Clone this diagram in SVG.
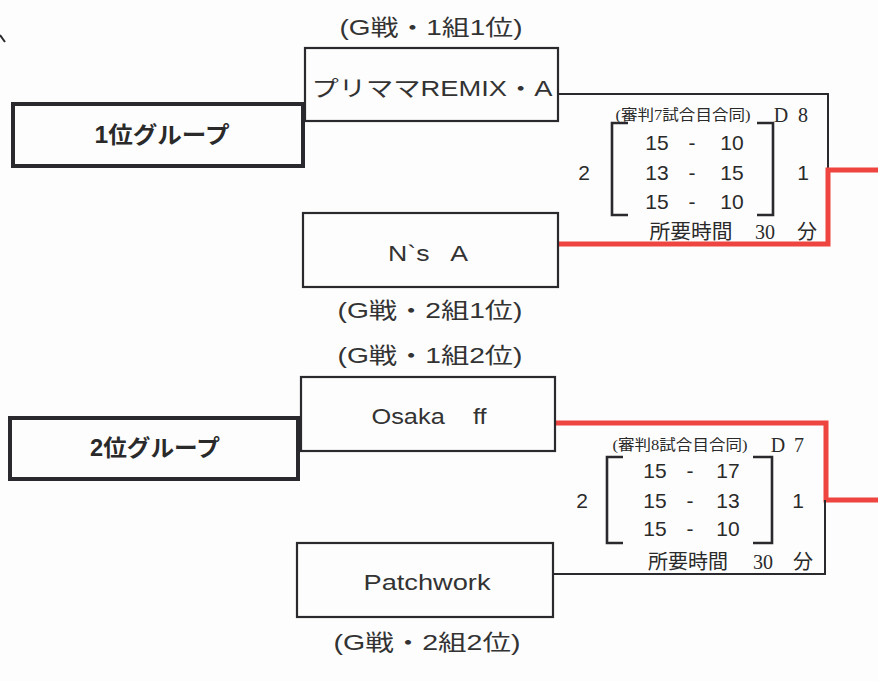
<svg xmlns="http://www.w3.org/2000/svg" width="878" height="681" viewBox="0 0 878 681">
<style>
.bg{fill:#fdfdfd}
.grp{fill:none;stroke:#2a2a2e;stroke-width:4}
.team{fill:none;stroke:#2a2a2e;stroke-width:2.2}
.gt{font-family:"Liberation Sans","Noto Sans CJK JP",sans-serif;font-weight:bold;font-size:23px;fill:#2a2a2a;text-anchor:middle}
.tn{font-family:"Liberation Sans","Noto Sans CJK JP",sans-serif;font-size:22px;fill:#333;text-anchor:middle}
.lb{font-family:"Liberation Sans","Noto Sans CJK JP",sans-serif;font-size:22px;fill:#333;text-anchor:middle}
.sc{font-family:"Liberation Sans","Noto Sans CJK JP",sans-serif;font-size:21px;fill:#2a2a2a;text-anchor:middle}
.mi{font-family:"Liberation Serif","Noto Sans CJK JP",serif;fill:#2a2a2a;text-anchor:middle}
.blk{fill:none;stroke:#2a2a2e;stroke-width:2}
.red{fill:none;stroke:#ef4540;stroke-width:5}
.brk{fill:none;stroke:#2a2a2e;stroke-width:2.6}
</style>
<rect class="bg" x="0" y="0" width="878" height="681"/>
<path d="M0,35 L5,42" stroke="#2a2a2e" stroke-width="2" fill="none"/>

<g id="connectors">
  <path class="blk" d="M558,94 H828 V170"/>
  <path class="red" d="M558,244 H828 V170 H878"/>
  <path class="red" d="M555,423 H826 V500 H878"/>
  <path class="blk" d="M553,574 H825 V500"/>
</g>

<g id="group1">
  <rect class="grp" x="13" y="104" width="290" height="62"/>
  <text class="gt" x="162" y="143" textLength="135" lengthAdjust="spacingAndGlyphs">1位グループ</text>
</g>
<g id="group2">
  <rect class="grp" x="10" y="418" width="288" height="61"/>
  <text class="gt" x="155" y="456" textLength="130" lengthAdjust="spacingAndGlyphs">2位グループ</text>
</g>

<g id="team1">
  <text class="lb" x="431" y="35" textLength="183" lengthAdjust="spacingAndGlyphs">(G戦・1組1位)</text>
  <rect class="team" x="305" y="48" width="253" height="73"/>
  <text class="tn" x="432" y="96" textLength="241" lengthAdjust="spacingAndGlyphs">プリママREMIX・A</text>
</g>
<g id="team2">
  <rect class="team" x="303" y="213" width="255" height="74"/>
  <text class="tn" x="428" y="261" xml:space="preserve" textLength="80" lengthAdjust="spacingAndGlyphs">N`s   A</text>
  <text class="lb" x="430" y="318" textLength="185" lengthAdjust="spacingAndGlyphs">(G戦・2組1位)</text>
</g>
<g id="team3">
  <text class="lb" x="430" y="363" textLength="185" lengthAdjust="spacingAndGlyphs">(G戦・1組2位)</text>
  <rect class="team" x="301" y="377" width="254" height="74"/>
  <text class="tn" x="429" y="424" xml:space="preserve" textLength="115" lengthAdjust="spacingAndGlyphs">Osaka    ff</text>
</g>
<g id="team4">
  <rect class="team" x="297" y="543" width="256" height="74"/>
  <text class="tn" x="427" y="590" textLength="127" lengthAdjust="spacingAndGlyphs">Patchwork</text>
  <text class="lb" x="427" y="650" textLength="187" lengthAdjust="spacingAndGlyphs">(G戦・2組2位)</text>
</g>

<g id="match1">
  <text class="mi" x="683" y="120" font-size="15" textLength="135" lengthAdjust="spacingAndGlyphs">(審判7試合目合同)</text>
  <text class="mi" x="781" y="122" font-size="20">D</text>
  <text class="mi" x="803" y="122" font-size="20">8</text>
  <path class="brk" d="M628,123 H612 V215 H628"/>
  <path class="brk" d="M757,123 H773 V215 H757"/>
  <text class="sc" x="657" y="150">15</text><text class="sc" x="692" y="150">-</text><text class="sc" x="732" y="150">10</text>
  <text class="sc" x="657" y="180">13</text><text class="sc" x="692" y="180">-</text><text class="sc" x="732" y="180">15</text>
  <text class="sc" x="657" y="209">15</text><text class="sc" x="692" y="209">-</text><text class="sc" x="732" y="209">10</text>
  <text class="sc" x="584" y="180">2</text>
  <text class="sc" x="803" y="180">1</text>
  <text class="mi" x="691" y="239" font-size="20" textLength="83" lengthAdjust="spacingAndGlyphs">所要時間</text>
  <text class="mi" x="765" y="239" font-size="20">30</text>
  <text class="mi" x="807" y="239" font-size="20">分</text>
</g>

<g id="match2">
  <text class="mi" x="680" y="450" font-size="15" textLength="135" lengthAdjust="spacingAndGlyphs">(審判8試合目合同)</text>
  <text class="mi" x="778" y="452" font-size="20">D</text>
  <text class="mi" x="799" y="452" font-size="20">7</text>
  <path class="brk" d="M623,457 H607 V543 H623"/>
  <path class="brk" d="M753,457 H772 V543 H753"/>
  <text class="sc" x="655" y="478">15</text><text class="sc" x="690" y="478">-</text><text class="sc" x="728" y="478">17</text>
  <text class="sc" x="655" y="508">15</text><text class="sc" x="690" y="508">-</text><text class="sc" x="728" y="508">13</text>
  <text class="sc" x="655" y="536">15</text><text class="sc" x="690" y="536">-</text><text class="sc" x="728" y="536">10</text>
  <text class="sc" x="582" y="508">2</text>
  <text class="sc" x="798" y="508">1</text>
  <text class="mi" x="688" y="569" font-size="20" textLength="80" lengthAdjust="spacingAndGlyphs">所要時間</text>
  <text class="mi" x="763" y="569" font-size="20">30</text>
  <text class="mi" x="803" y="569" font-size="20">分</text>
</g>
</svg>
